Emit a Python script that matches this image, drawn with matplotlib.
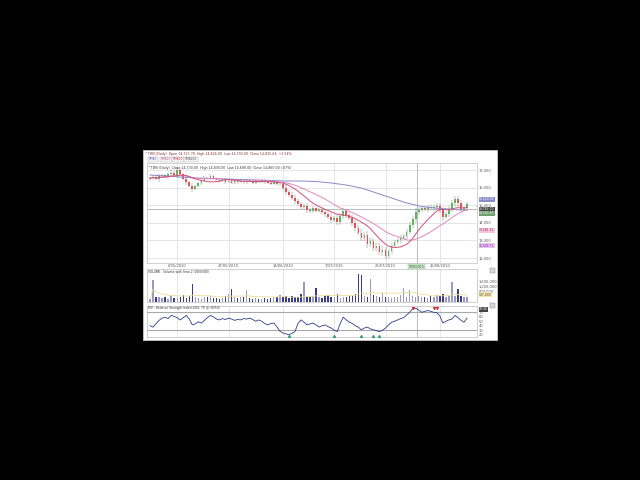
import matplotlib
matplotlib.use("Agg")
import matplotlib.pyplot as plt
from matplotlib.patches import Rectangle
import numpy as np
import pandas as pd

# ---------------- data ----------------
closes = [16540, 16600, 16480, 16650, 16700, 16620, 16780, 16850, 16720, 16980,
          16760, 16500, 16300, 16120, 15920, 16080, 16250, 16400, 16560, 16480,
          16650, 16520, 16430, 16380, 16460, 16320, 16400, 16290, 16350, 16310,
          16380, 16300, 16420, 16360, 16280, 16390, 16330, 16410, 16300, 16260,
          16230, 16300, 16180, 16200, 16000, 15750, 15600, 15420, 15250, 15050,
          14900, 14950, 14750, 14680, 14820, 14700, 14730, 14600, 14500, 14350,
          14160, 14250, 14050, 14400, 14650, 14450, 14270, 14000, 13700, 13450,
          13140, 13300, 12800, 12950, 12570, 12700, 12340, 12450, 12120, 12400,
          12680, 12900, 13020, 13150, 13250, 13500, 13880, 14200, 14610, 14750,
          14840, 14780, 14900, 14820, 14880, 14950, 14720, 14330, 14500, 14790,
          15130, 15350, 15120, 14780, 14850, 15070]
first_open = 16480
wicks = [80, 120, 60, 150, 90, 70, 110, 200, 90, 180,
         120, 90, 140, 100, 160, 80, 70, 120, 90, 60,
         100, 80, 60, 90, 70, 110, 60, 80, 70, 90,
         60, 80, 70, 60, 90, 70, 60, 80, 90, 70,
         80, 60, 100, 90, 120, 150, 110, 130, 160, 120,
         140, 100, 180, 120, 150, 100, 110, 130, 160, 140,
         180, 120, 200, 160, 190, 150, 120, 170, 140, 160,
         200, 180, 220, 160, 190, 150, 170, 210, 160, 140,
         150, 130, 120, 160, 140, 170, 150, 190, 210, 150,
         130, 120, 140, 110, 130, 150, 180, 200, 140, 160,
         170, 200, 150, 180, 120, 110]
long_ma_idx = list(range(0, 106, 5))
long_ma = [16716, 16659, 16602, 16546, 16517, 16489, 16460, 16432, 16404, 16375,
           16375, 16347, 16262, 16148, 15978, 15694, 15410, 15126, 14930, 14830,
           14770, 14710]
volumes = [260, 1720, 350, 420, 300, 380, 250, 450, 320, 280,
           400, 520, 330, 450, 1370, 380, 300, 260, 420, 350,
           500, 280, 330, 250, 300, 450, 600, 1000, 380, 300,
           420, 350, 900, 280, 260, 310, 200, 250, 300, 220,
           280, 350, 400, 520, 380, 450, 300, 500, 420, 380,
           600, 1580, 350, 420, 500, 1050, 380, 300, 450, 520,
           400, 350, 600, 300, 420, 380, 500, 450, 600, 2160,
           2080, 500, 400, 1800, 550, 450, 400, 720, 380, 350,
           300, 420, 380, 550, 1080, 400, 950, 450, 380, 500,
           420, 350, 300, 450, 380, 520, 450, 600, 400, 480,
           1580, 500, 980, 450, 380, 420]
rsi = [40, 37, 45, 52, 57, 59, 56, 63, 61, 58,
       53, 58, 63, 55, 42, 44, 49, 46, 52, 58,
       63, 60, 55, 53, 56, 54, 57, 55, 52, 54,
       53, 56, 55, 57, 54, 50, 53, 50, 45, 42,
       45, 46, 38, 28, 24, 22, 20, 23, 27, 45,
       53, 48, 42, 44, 46, 42, 37, 40, 42, 38,
       35, 30, 27, 45, 59, 53, 48, 45, 40, 37,
       31, 35, 37, 33, 31, 29, 27, 30, 35, 42,
       48, 50, 53, 56, 58, 64, 70, 78, 79, 75,
       70, 72, 74, 72, 70, 69, 62, 46, 50, 53,
       55, 63, 58, 52, 48, 57]
rsi_buy_idx = [46, 61, 70, 74, 76]
rsi_sell_idx = [87, 94, 95]
date_ticks = [9, 26, 44, 61, 78, 96]
date_labels = ["6/05/2010", "27/05/2010", "18/06/2010", "7/07/2010", "26/07/2010", "16/08/2010"]
price_ticks = [12000, 13000, 14000, 15000, 16000, 17000]
vol_ticks = [800, 1200, 1600]
rsi_ticks = [20, 30, 40, 50, 60, 70]
cross_idx = 88.4
cross_price = 14785
cross_date = "9/08/2010"
side_labels = [(15330, "15,110.26", "#8a8ac8", "white"),
               (14540, "14,562.40", "#6f9f6f", "white"),
               (13580, "13,581.15", "#f4c6dc", "#a03060"),
               (12690, "12,688.72", "#e8c0f0", "#8040a0")]

# ---------------- derived ----------------
n = len(closes)
x = np.arange(n)
c = np.array(closes, float)
o = np.concatenate([[first_open], c[:-1]])
w = np.array(wicks, float)
hi = np.maximum(o, c) + w
lo = np.minimum(o, c) - w
up = c >= o
fast = pd.Series(c).rolling(10, min_periods=1).mean().values
slow = pd.Series(c).rolling(20, min_periods=1).mean().values
vol = np.array(volumes, float) * 1000
vol_ma = pd.Series(vol).rolling(20, min_periods=1).mean().values

# ---------------- figure ----------------
W, H = 640, 480
fig = plt.figure(figsize=(6.4, 4.8), dpi=100, facecolor="black")

def fx(px):
    return px / W

def fy(py):
    return 1 - py / H

fig.add_artist(Rectangle((fx(143), fy(340)), fx(354), 190 / H, transform=fig.transFigure,
                         facecolor="white", edgecolor="#c8c8c8", lw=0.6, zorder=0))

left, width = fx(147), 330 / W
ax_p = fig.add_axes([left, fy(263), width, 100 / H])
ax_v = fig.add_axes([left, fy(302), width, 33 / H])
ax_r = fig.add_axes([left, fy(337), width, 31 / H])

xlim = (-1, 108.3)
grid_c = "#dcdcdc"
lab_c = "#555555"
fs = 2.6

for ax in (ax_p, ax_v, ax_r):
    ax.set_xlim(*xlim)
    ax.set_facecolor("white")
    for s in ax.spines.values():
        s.set_color("#bdbdbd")
        s.set_linewidth(0.5)
    ax.yaxis.tick_right()
    ax.tick_params(axis="both", length=0, labelsize=fs, colors=lab_c, pad=1.5)
    ax.set_xticks(date_ticks)
    for t in date_ticks:
        ax.axvline(t, color=grid_c, lw=0.5, zorder=0)
    ax.axvline(cross_idx, color="#a0a0a0", lw=0.5, zorder=1)

# price panel
ax_p.set_ylim(11718, 17398)
ax_p.set_yticks(price_ticks)
ax_p.set_yticklabels([f"{v:,}" for v in price_ticks])
for v in price_ticks:
    ax_p.axhline(v, color=grid_c, lw=0.5, zorder=0)
ax_p.set_xticklabels(date_labels)
ax_p.tick_params(axis="x", pad=0.8)
ax_p.vlines(x, lo, hi, color="#666666", lw=0.3, zorder=2)
body_h = np.maximum(np.abs(c - o), 25)
ax_p.bar(x[up], body_h[up], bottom=np.minimum(o, c)[up], width=0.55,
         color="#5cb85c", edgecolor="none", zorder=3)
ax_p.bar(x[~up], body_h[~up], bottom=np.minimum(o, c)[~up], width=0.55,
         color="#e05555", edgecolor="none", zorder=3)
ax_p.plot(long_ma_idx, long_ma, color="#8a8ac8", lw=0.7, zorder=4)
ax_p.plot(x, slow, color="#e08ac0", lw=0.7, zorder=4)
ax_p.plot(x, fast, color="#d0507a", lw=0.7, zorder=4)
ax_p.axhline(cross_price, color="#a0a0a0", lw=0.5, zorder=1)
ax_p.text(0.004, 0.975, "^TWII (Daily)  Close 14,730.00  High 14,830.00  Low 14,690.00  Close 14,860.00 (.67%)",
          transform=ax_p.transAxes, fontsize=2.3, color="#333333", va="top", ha="left")

def rlabel(ax, yv, txt, fc, tc="white"):
    ax.annotate(txt, xy=(1.0, yv), xycoords=("axes fraction", "data"), xytext=(1.5, 0),
                textcoords="offset points", fontsize=2.2, color=tc, va="center", ha="left",
                bbox=dict(boxstyle="square,pad=0.15", fc=fc, ec="none"), annotation_clip=False)

rlabel(ax_p, cross_price, f"{cross_price:,.2f}", "#444444")
for yv, txt, fc, tc in side_labels:
    rlabel(ax_p, yv, txt, fc, tc)
ax_p.annotate(cross_date, xy=(cross_idx, 0), xycoords=("data", "axes fraction"), xytext=(0, -2.6),
              textcoords="offset points", fontsize=2.2, color="#335533", ha="center", va="center",
              bbox=dict(boxstyle="square,pad=0.2", fc="#cfeacf", ec="#8fbf8f", lw=0.3),
              annotation_clip=False)

# volume panel
ax_v.set_ylim(0, 2.55e6)
ax_v.set_yticks([v * 1000 for v in vol_ticks])
ax_v.set_yticklabels([f"{v * 1000:,}" for v in vol_ticks])
ax_v.set_xticklabels([])
ax_v.bar(x[up], vol[up], width=0.45, color="#9a9ac4", zorder=2)
ax_v.bar(x[~up], vol[~up], width=0.45, color="#3a3a8c", zorder=2)
ax_v.plot(x, vol_ma, color="#eadc9a", lw=0.6, zorder=3)
ax_v.text(0.004, 0.97, "VOLUME - Volume with Sma 2 (VDIS/VDI)", transform=ax_v.transAxes,
          fontsize=2.2, color="#333333", va="top", ha="left")
rlabel(ax_v, vol_ma[-1], f"{vol_ma[-1]:,.0f}", "#f3e6a8", "#555555")

# rsi panel
ax_r.set_ylim(15, 84)
ax_r.set_yticks(rsi_ticks)
ax_r.set_yticklabels([str(v) for v in rsi_ticks])
ax_r.set_xticklabels([])
ax_r.axhline(70, color="#a8a8a8", lw=0.8, zorder=1)
ax_r.axhline(30, color="#a8a8a8", lw=0.8, zorder=1)
ax_r.plot(x, rsi, color="#2e3c8c", lw=0.6, zorder=3)
ax_r.scatter(rsi_buy_idx, [17.5] * len(rsi_buy_idx), marker="^", s=1.5, color="#2a9a6a", zorder=4)
ax_r.scatter(rsi_sell_idx, [80] * len(rsi_sell_idx), marker="v", s=1.5, color="#c83030", zorder=4)
ax_r.text(0.004, 0.985, "RSI - Relative Strength Index(14/4, 70 @ 30/50)", transform=ax_r.transAxes,
          fontsize=2.2, color="#333333", va="top", ha="left")
rlabel(ax_r, 77, "70.00", "#444444")

# header
fig.text(fx(145), fy(154), "^TWII (Daily)  Open 14,727.78  High 14,826.00  Low 14,703.00  Close 14,835.64  +1.54%",
         fontsize=2.3, color="#803030", va="center", ha="left")
leg_items = [("SMA5", "#6a6ac0"), ("SMA13", "#c060a0"), ("SMA50", "#d04050"), ("SMA200", "#606060")]
for k, (name, col) in enumerate(leg_items):
    fig.text(fx(149 + k * 12), fy(159.5), name, fontsize=2.2, color=col, va="center", ha="left",
             bbox=dict(boxstyle="square,pad=0.2", fc="#f4f4f4", ec="#b0b0b0", lw=0.3))

# small close boxes
for py in (270, 305):
    fig.add_artist(Rectangle((fx(489.5), fy(py + 2.5)), 5 / W, 5 / H, transform=fig.transFigure,
                             facecolor="#d8d8d8", edgecolor="#808080", lw=0.3))

fig.savefig("out.png", dpi=100, facecolor="black")
